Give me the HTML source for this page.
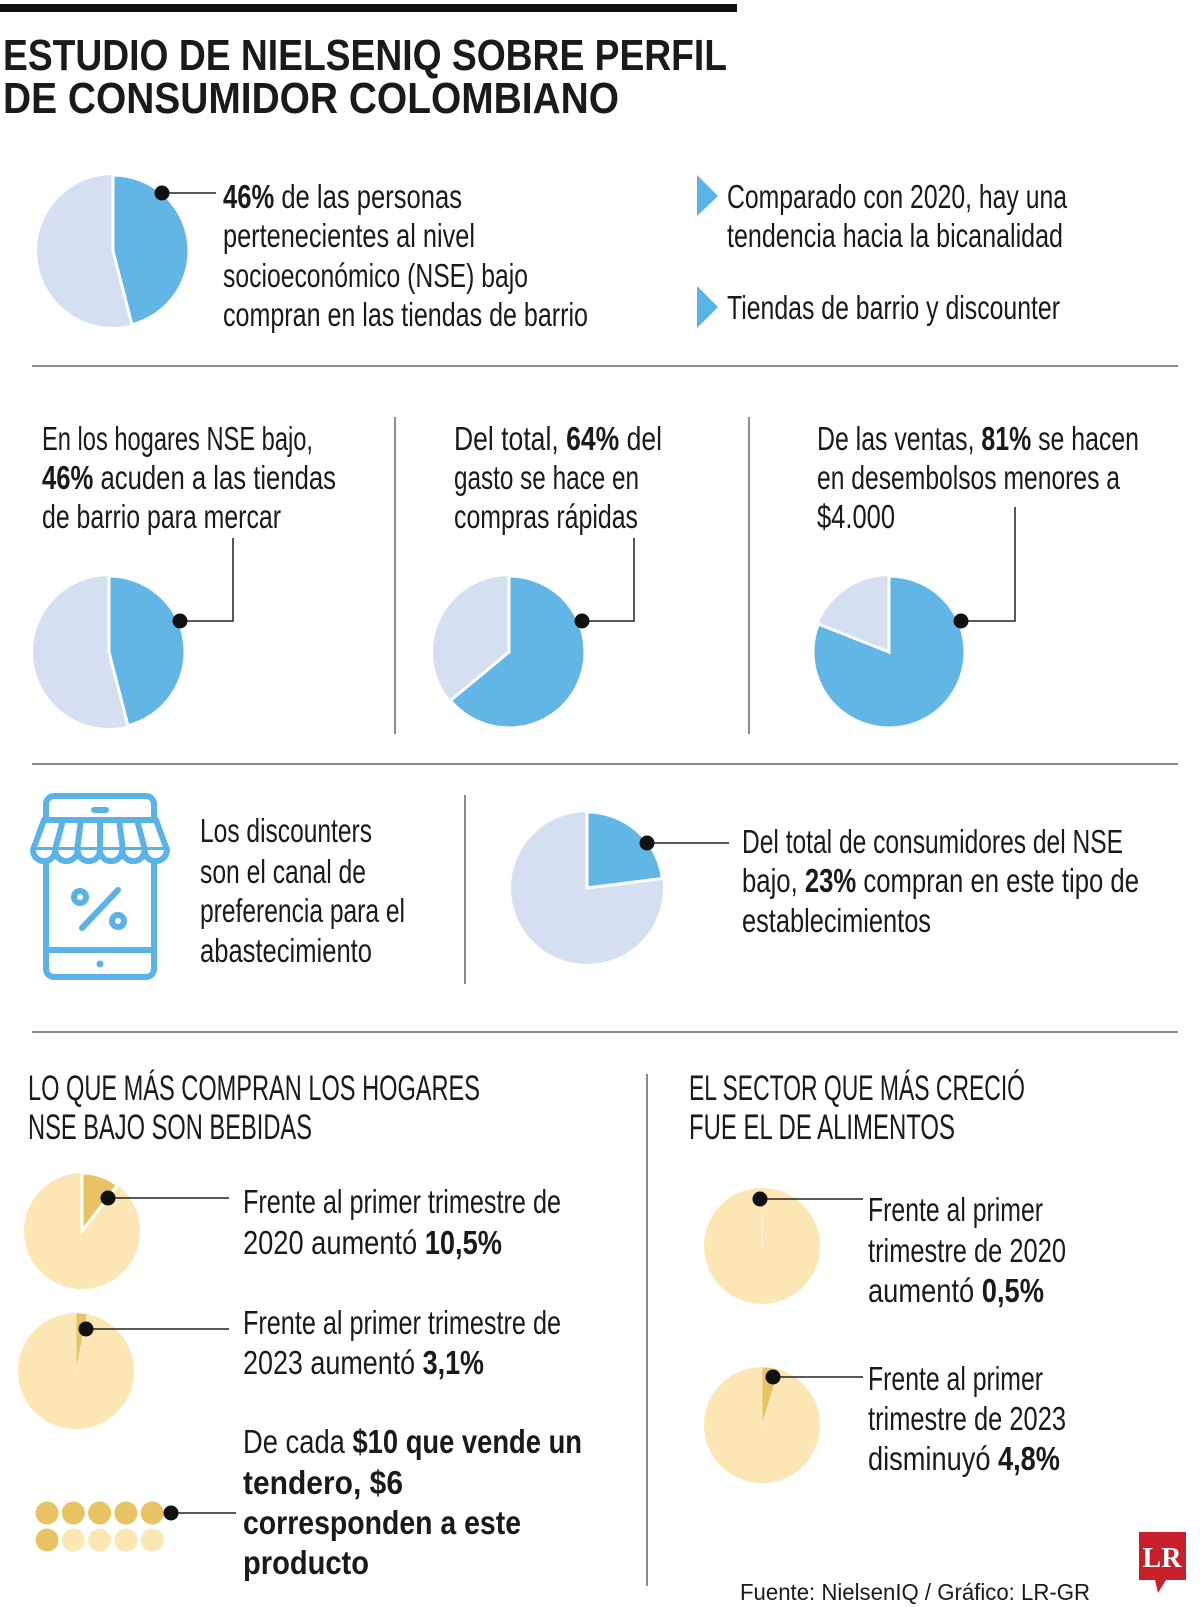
<!DOCTYPE html>
<html><head><meta charset="utf-8">
<style>
html,body{margin:0;padding:0;background:#fff;}
svg{display:block;}
text{font-family:"Liberation Sans Narrow","Liberation Sans",sans-serif;fill:#1a1a1a;}
.b{font-size:33px;}
.h{font-size:35px;}
.t{font-size:44px;font-weight:bold;}
.bd{font-weight:bold;}
</style></head>
<body>
<svg id="chart" width="1200" height="1607" viewBox="0 0 1200 1607" xmlns="http://www.w3.org/2000/svg">
<rect x="0" y="4" width="737" height="8" fill="#111"/>
<text class="t" x="3" y="70" textLength="724" lengthAdjust="spacingAndGlyphs">ESTUDIO DE NIELSENIQ SOBRE PERFIL</text>
<text class="t" x="3" y="113" textLength="616" lengthAdjust="spacingAndGlyphs">DE CONSUMIDOR COLOMBIANO</text>

<g>
<text class="b" x="223" y="208" textLength="239" lengthAdjust="spacingAndGlyphs"><tspan class="bd">46%</tspan> de las personas</text>
<text class="b" x="223" y="247" textLength="252" lengthAdjust="spacingAndGlyphs">pertenecientes al nivel</text>
<text class="b" x="223" y="287" textLength="305" lengthAdjust="spacingAndGlyphs">socioeconómico (NSE) bajo</text>
<text class="b" x="223" y="326" textLength="365" lengthAdjust="spacingAndGlyphs">compran en las tiendas de barrio</text>
</g>
<g>
<polygon points="697,175 718,196 697,216" fill="#5ab3e6"/>
<text class="b" x="727" y="208" textLength="340" lengthAdjust="spacingAndGlyphs">Comparado con 2020, hay una</text>
<text class="b" x="727" y="247" textLength="336" lengthAdjust="spacingAndGlyphs">tendencia hacia la bicanalidad</text>
</g>
<g>
<polygon points="697,286 718,307 697,328" fill="#5ab3e6"/>
<text class="b" x="727" y="319" textLength="333" lengthAdjust="spacingAndGlyphs">Tiendas de barrio y discounter</text>
</g>
<line x1="32" y1="366" x2="1178" y2="366" stroke="#666" stroke-width="1.5"/>

<line x1="395" y1="417" x2="395" y2="734" stroke="#666" stroke-width="1.5"/>
<line x1="749" y1="417" x2="749" y2="734" stroke="#666" stroke-width="1.5"/>
<g>
<text class="b" x="42" y="450" textLength="271" lengthAdjust="spacingAndGlyphs">En los hogares NSE bajo,</text>
<text class="b" x="42" y="489" textLength="294" lengthAdjust="spacingAndGlyphs"><tspan class="bd">46%</tspan> acuden a las tiendas</text>
<text class="b" x="42" y="528" textLength="239" lengthAdjust="spacingAndGlyphs">de barrio para mercar</text>
</g>
<g>
<text class="b" x="454" y="450" textLength="208" lengthAdjust="spacingAndGlyphs">Del total, <tspan class="bd">64%</tspan> del</text>
<text class="b" x="454" y="489" textLength="185" lengthAdjust="spacingAndGlyphs">gasto se hace en</text>
<text class="b" x="454" y="528" textLength="184" lengthAdjust="spacingAndGlyphs">compras rápidas</text>
</g>
<g>
<text class="b" x="817" y="450" textLength="322" lengthAdjust="spacingAndGlyphs">De las ventas, <tspan class="bd">81%</tspan> se hacen</text>
<text class="b" x="817" y="489" textLength="303" lengthAdjust="spacingAndGlyphs">en desembolsos menores a</text>
<text class="b" x="817" y="528" textLength="78" lengthAdjust="spacingAndGlyphs">$4.000</text>
</g>
<line x1="32" y1="764" x2="1178" y2="764" stroke="#666" stroke-width="1.5"/>

<g fill="none" stroke="#5ab3e6" stroke-width="6" stroke-linejoin="round" stroke-linecap="round">
<rect x="46" y="796" width="108" height="181" rx="8"/>
<line x1="46" y1="820" x2="154" y2="820"/>
<line x1="94" y1="810" x2="106" y2="810"/>
<path d="M44,820 L156,820 L167,850 L33,850 Z" fill="#fff"/>
<path d="M33,850 a11,11 0 0 0 22.3,0 a11,11 0 0 0 22.3,0 a11,11 0 0 0 22.3,0 a11,11 0 0 0 22.3,0 a11,11 0 0 0 22.3,0 a11,11 0 0 0 22.3,0" fill="#fff"/>
<line x1="63" y1="820" x2="55" y2="850"/><line x1="81" y1="820" x2="77" y2="850"/><line x1="100" y1="820" x2="100" y2="850"/><line x1="119" y1="820" x2="123" y2="850"/><line x1="137" y1="820" x2="145" y2="850"/>
<line x1="46" y1="950" x2="154" y2="950"/>
<circle cx="80" cy="897" r="6"/>
<circle cx="118" cy="921" r="6"/>
<line x1="118" y1="890" x2="82" y2="928"/>
</g>
<circle cx="100" cy="964" r="3.5" fill="#5ab3e6"/>
<g>
<text class="b" x="200" y="842" textLength="172" lengthAdjust="spacingAndGlyphs">Los discounters</text>
<text class="b" x="200" y="883" textLength="166" lengthAdjust="spacingAndGlyphs">son el canal de</text>
<text class="b" x="200" y="922" textLength="205" lengthAdjust="spacingAndGlyphs">preferencia para el</text>
<text class="b" x="200" y="962" textLength="172" lengthAdjust="spacingAndGlyphs">abastecimiento</text>
</g>
<line x1="465" y1="795" x2="465" y2="984" stroke="#666" stroke-width="1.5"/>
<g>
<text class="b" x="742" y="853" textLength="381" lengthAdjust="spacingAndGlyphs">Del total de consumidores del NSE</text>
<text class="b" x="742" y="892" textLength="397" lengthAdjust="spacingAndGlyphs">bajo, <tspan class="bd">23%</tspan> compran en este tipo de</text>
<text class="b" x="742" y="932" textLength="189" lengthAdjust="spacingAndGlyphs">establecimientos</text>
</g>
<line x1="32" y1="1032" x2="1178" y2="1032" stroke="#666" stroke-width="1.5"/>

<text class="h" x="28" y="1100" textLength="452" lengthAdjust="spacingAndGlyphs">LO QUE MÁS COMPRAN LOS HOGARES</text>
<text class="h" x="28" y="1139" textLength="284" lengthAdjust="spacingAndGlyphs">NSE BAJO SON BEBIDAS</text>
<text class="h" x="689" y="1100" textLength="336" lengthAdjust="spacingAndGlyphs">EL SECTOR QUE MÁS CRECIÓ</text>
<text class="h" x="689" y="1139" textLength="266" lengthAdjust="spacingAndGlyphs">FUE EL DE ALIMENTOS</text>
<line x1="647" y1="1074" x2="647" y2="1586" stroke="#666" stroke-width="1.5"/>

<g>
<text class="b" x="243" y="1213" textLength="318" lengthAdjust="spacingAndGlyphs">Frente al primer trimestre de</text>
<text class="b" x="243" y="1254" textLength="259" lengthAdjust="spacingAndGlyphs">2020 aumentó <tspan class="bd">10,5%</tspan></text>
</g>
<g>
<text class="b" x="243" y="1334" textLength="318" lengthAdjust="spacingAndGlyphs">Frente al primer trimestre de</text>
<text class="b" x="243" y="1374" textLength="241" lengthAdjust="spacingAndGlyphs">2023 aumentó <tspan class="bd">3,1%</tspan></text>
</g>
<g>
<text class="b" x="243" y="1453" textLength="339" lengthAdjust="spacingAndGlyphs">De cada <tspan class="bd">$10 que vende un</tspan></text>
<text class="b bd" x="243" y="1494" textLength="160" lengthAdjust="spacingAndGlyphs">tendero, $6</text>
<text class="b bd" x="243" y="1534" textLength="278" lengthAdjust="spacingAndGlyphs">corresponden a este</text>
<text class="b bd" x="243" y="1574" textLength="126" lengthAdjust="spacingAndGlyphs">producto</text>
</g>
<g>
<text class="b" x="868" y="1221" textLength="175" lengthAdjust="spacingAndGlyphs">Frente al primer</text>
<text class="b" x="868" y="1262" textLength="198" lengthAdjust="spacingAndGlyphs">trimestre de 2020</text>
<text class="b" x="868" y="1302" textLength="176" lengthAdjust="spacingAndGlyphs">aumentó <tspan class="bd">0,5%</tspan></text>
</g>
<g>
<text class="b" x="868" y="1390" textLength="175" lengthAdjust="spacingAndGlyphs">Frente al primer</text>
<text class="b" x="868" y="1430" textLength="198" lengthAdjust="spacingAndGlyphs">trimestre de 2023</text>
<text class="b" x="868" y="1470" textLength="192" lengthAdjust="spacingAndGlyphs">disminuyó <tspan class="bd">4,8%</tspan></text>
</g>

<text x="740" y="1600" textLength="350" lengthAdjust="spacingAndGlyphs" style="font-family:'Liberation Sans',sans-serif;font-size:23px;">Fuente: NielsenIQ / Gráfico: LR-GR</text>
<g>
<path d="M1139,1532 H1186 V1580 H1166 L1158,1593 L1155,1580 H1139 Z" fill="#c8202a"/>
<text x="1162" y="1567" text-anchor="middle" style="font-family:'Liberation Serif',serif;font-size:28px;font-weight:bold;fill:#fff">LR</text>
</g>
<g id="marks"></g>
</svg>
<script>
// Pie chart values (percent of whole)
const pieNames = ["pie-nse-bajo-tiendas","pie-hogares-tiendas","pie-compras-rapidas","pie-desembolsos","pie-discounters","pie-bebidas-2020","pie-bebidas-2023","pie-alimentos-2020","pie-alimentos-2023"];
const pieValues = [46, 46, 64, 81, 23, 10.5, 3.1, 0.5, 4.8];
const pieThemes = ["blue","blue","blue","blue","blue","gold","gold","gold","gold"];
// Coin row: units out of total
const coinsFilled = 6;
const coinsTotal = 10;

const layout = [
  {cx:113,cy:251,r:76,dot:[162,193],path:[[216,193]]},
  {cx:109,cy:652,r:76,dot:[180,621],path:[[233,621],[233,538]]},
  {cx:509,cy:652,r:76,dot:[582,621],path:[[634,621],[634,538]]},
  {cx:889,cy:652,r:76,dot:[961,621],path:[[1015,621],[1015,507]]},
  {cx:587,cy:888,r:76,dot:[647,843],path:[[729,843]]},
  {cx:82,cy:1231,r:58,dot:[108,1198],path:[[229,1198]]},
  {cx:76,cy:1371,r:58,dot:[86,1329],path:[[229,1329]]},
  {cx:762,cy:1246,r:58,dot:[760,1199],path:[[863,1199]]},
  {cx:762,cy:1425,r:58,dot:[773,1377],path:[[863,1377]]}
];
const themes = {blue:{on:"#62b6e6",off:"#d4dff2"}, gold:{on:"#e9c363",off:"#fce6b3"}};
const NS = "http://www.w3.org/2000/svg";
const marks = document.getElementById("marks");
function angleToXY(cx,cy,r,pct){const a=pct/100*2*Math.PI-Math.PI/2;return [cx+r*Math.cos(a),cy+r*Math.sin(a)];}
function mk(tag,attrs){const e=document.createElementNS(NS,tag);for(const k in attrs)e.setAttribute(k,attrs[k]);return e;}

pieValues.forEach((v,i)=>{
  const L=layout[i], th=themes[pieThemes[i]];
  const g=mk("g",{});
  
  
  const bg=mk("circle",{cx:L.cx,cy:L.cy,r:L.r,fill:th.off});
  
  
  g.appendChild(bg);
  const [x1,y1]=angleToXY(L.cx,L.cy,L.r,0);
  const [x2,y2]=angleToXY(L.cx,L.cy,L.r,v);
  const large=v>50?1:0;
  const sl=mk("path",{d:`M${L.cx},${L.cy} L${x1},${y1} A${L.r},${L.r} 0 ${large} 1 ${x2},${y2} Z`,fill:th.on,stroke:"#fff","stroke-width":v>5?3:0.5});
  
  
  g.appendChild(sl);
  let d=`M${L.dot[0]},${L.dot[1]}`;L.path.forEach(p=>d+=` L${p[0]},${p[1]}`);
  const ln=mk("path",{d:d,fill:"none",stroke:"#222","stroke-width":1.5});
  
  
  g.appendChild(ln);
  const dot=mk("circle",{cx:L.dot[0],cy:L.dot[1],r:7.5,fill:"#111"});
  
  
  g.appendChild(dot);
  marks.appendChild(g);
});

const coinX0=47, coinDX=26.3, coinY=[1513,1540], coinR=11.5, perRow=5;
for(let k=0;k<coinsTotal;k++){
  const row=Math.floor(k/perRow), col=k%perRow;
  const c=mk("circle",{cx:coinX0+col*coinDX,cy:coinY[row],r:coinR,fill:k<coinsFilled?"#e9c363":"#fce6b3"});
  
  
  marks.appendChild(c);
}
const cl=mk("path",{d:"M171,1513 L236,1513",stroke:"#222","stroke-width":1.5});


marks.appendChild(cl);
const cd=mk("circle",{cx:171,cy:1513,r:7.5,fill:"#111"});


marks.appendChild(cd);
</script>
</body></html>
